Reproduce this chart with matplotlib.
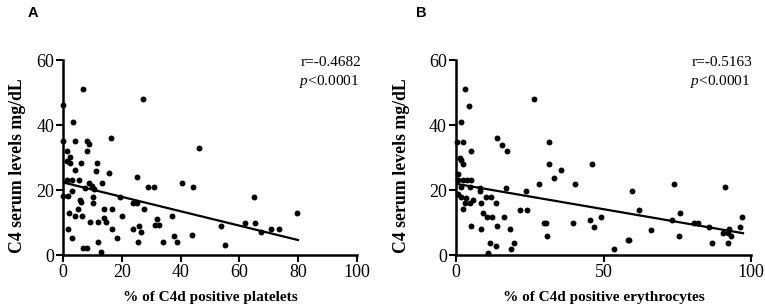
import matplotlib
matplotlib.use("Agg")
import matplotlib.pyplot as plt
import numpy as np

plt.rcParams["mathtext.fontset"] = "custom"
plt.rcParams["mathtext.it"] = "Liberation Serif:italic"
plt.rcParams["mathtext.rm"] = "Liberation Serif"

# ---- Panel A data: % C4d positive platelets vs C4 serum level ----
platelets_x = [6.6, 27.0, 0.0, 3.4, 0.0, 4.0, 8.0, 8.8, 16.1, 46.2, 1.1, 8.0, 2.3, 1.1, 2.3,
               6.2, 11.4, 4.0, 11.0, 15.6, 25.2, 1.1, 3.1, 5.3, 8.8, 9.7, 10.5, 13.1, 7.4, 3.1,
               28.9, 30.9, 40.3, 44.2, 0.0, 1.7, 10.0, 19.3, 6.0, 5.7, 10.0, 23.8, 25.2, 27.6, 2.0,
               4.0, 6.4, 4.9, 13.9, 16.5, 19.9, 36.9, 13.9, 14.5, 9.1, 11.7, 31.8, 31.2, 32.6,
               26.4, 25.9, 23.8, 16.7, 1.5, 3.1, 18.4, 34.0, 37.7, 38.9, 25.5, 11.7, 6.8, 8.0,
               12.8, 64.9, 79.6, 53.9, 61.8, 65.5, 67.5, 70.9, 73.5, 44.0, 55.0]
platelets_c4 = [51.1, 48.1, 46.2, 41.1, 35.2, 35.2, 35.2, 34.2, 36.2, 33.1, 32.1, 32.1, 30.2, 29.1, 28.3,
                28.3, 28.3, 26.2, 25.9, 25.2, 24.0, 23.2, 23.2, 23.2, 22.1, 21.4, 20.4, 22.1, 20.8, 19.8,
                21.1, 21.1, 22.1, 21.1, 18.3, 18.3, 18.0, 18.0, 16.3, 17.0, 16.2, 16.2, 16.2, 14.2, 13.1,
                12.1, 12.1, 14.1, 14.1, 14.1, 12.1, 12.1, 11.4, 10.2, 10.2, 10.2, 11.1, 9.3, 9.3,
                7.1, 9.0, 8.0, 8.0, 8.1, 5.2, 5.2, 4.0, 6.0, 4.0, 4.0, 4.0, 2.2, 2.2,
                0.9, 18.0, 13.1, 9.1, 10.0, 10.0, 7.1, 8.1, 8.1, 6.2, 3.1]
fitA_x = [0, 80]
fitA_y = [22.4, 4.7]

# ---- Panel B data: % C4d positive erythrocytes vs C4 serum level ----
erythro_x = [3.2, 4.4, 26.3, 1.8, 0.3, 2.4, 13.9, 15.6, 17.4, 31.6, 5.1, 1.2, 1.8, 2.4, 31.4,
             35.7, 0.7, 0.7, 2.4, 3.8, 5.2, 1.8, 4.6, 8.0, 8.0, 17.1, 23.6, 28.0, 33.2, 40.2,
             0.7, 1.8, 3.5, 5.8, 2.4, 3.2, 4.6, 8.4, 10.1, 12.0, 13.5, 9.2, 10.6, 12.3, 16.3,
             21.8, 24.1, 5.2, 8.4, 14.0, 18.4, 29.8, 30.4, 31.0, 39.7, 11.6, 13.5, 19.6, 18.7, 10.8,
             46.0, 59.5, 73.9, 91.2, 62.0, 75.9, 97.1, 45.4, 46.8, 49.2, 73.1, 80.8, 82.1, 85.8,
             90.6, 92.1, 92.5, 93.2, 96.3, 66.1, 75.6, 58.2, 58.7, 86.7, 92.3, 53.7]
erythro_c4 = [51.1, 46.0, 48.1, 41.0, 35.0, 35.0, 36.0, 33.9, 32.1, 35.0, 32.1, 30.0, 29.3, 28.1, 28.0,
              26.2, 24.9, 23.2, 23.2, 23.2, 23.2, 21.1, 21.1, 20.6, 19.8, 20.8, 19.9, 21.9, 23.9, 21.9,
              18.8, 18.0, 17.7, 17.0, 14.2, 16.0, 16.0, 16.0, 18.0, 18.0, 16.0, 12.9, 11.9, 11.9, 11.9,
              13.9, 13.9, 9.0, 8.0, 9.0, 8.0, 9.8, 9.8, 5.9, 9.8, 3.9, 2.9, 3.9, 1.9, 0.8,
              28.0, 19.9, 21.9, 20.9, 13.9, 12.9, 11.9, 10.9, 8.8, 11.9, 10.9, 9.8, 9.8, 8.8,
              7.0, 7.0, 8.0, 5.9, 8.8, 7.8, 5.9, 4.7, 4.7, 3.9, 3.9, 1.8]
fitB_x = [0, 97.3]
fitB_y = [22.0, 6.8]

yticks = [0, 20, 40, 60]
xticksA = [0, 20, 40, 60, 80, 100]
xticksB = [0, 50, 100]

W, H = 765, 308
fig = plt.figure(figsize=(W / 100, H / 100), dpi=100)

serif = ["Liberation Serif", "DejaVu Serif"]
sans = ["Liberation Sans", "DejaVu Sans"]


def px_axes(left, right, top, bottom):
    return fig.add_axes([left / W, 1 - bottom / H, (right - left) / W, (bottom - top) / H])


def style(ax, xticks, xlabel, ylab_x_px, left_px, width_px):
    ax.set_xlim(0, 100)
    ax.set_ylim(0, 60)
    ax.set_xticks(xticks)
    ax.set_yticks(yticks)
    for s in ["top", "right"]:
        ax.spines[s].set_visible(False)
    for s in ["left", "bottom"]:
        ax.spines[s].set_linewidth(1.8)
    ax.tick_params(direction="out", length=5, width=1.5, labelsize=13, pad=1.5)
    for lab in ax.get_xticklabels() + ax.get_yticklabels():
        lab.set_family(serif)
    ax.set_xlabel(xlabel, family=serif, fontweight="bold", fontsize=11, labelpad=7)
    ax.set_ylabel("C4 serum levels mg/dL", family=serif, fontweight="bold", fontsize=12.8)
    ax.yaxis.label.set_va("center")
    ax.yaxis.set_label_coords((ylab_x_px - left_px) / width_px, 0.46)
    ax.patch.set_alpha(0)


axA = px_axes(63.3, 356.7, 60.3, 255.3)
axA.scatter(platelets_x, platelets_c4, s=18, color="black", clip_on=False, zorder=3, linewidths=0)
axA.plot(fitA_x, fitA_y, color="black", lw=1.6)
style(axA, xticksA, "% of C4d positive platelets", 17.5, 63.3, 293.4)

axB = px_axes(456, 751, 60.3, 255.3)
axB.scatter(erythro_x, erythro_c4, s=18, color="black", clip_on=False, zorder=3, linewidths=0)
axB.plot(fitB_x, fitB_y, color="black", lw=1.6)
style(axB, xticksB, "% of C4d positive erythrocytes", 401, 456, 295)

# annotations
fig.text(301 / W, 1 - 62 / H, "r=-0.4682", family=serif, fontsize=11, va="center", ha="left")
fig.text(299 / W, 1 - 82 / H, r"$\mathit{p}$<0.0001", family=serif, fontsize=11, va="center", ha="left")
fig.text(692 / W, 1 - 62 / H, "r=-0.5163", family=serif, fontsize=11, va="center", ha="left")
fig.text(690 / W, 1 - 82 / H, r"$\mathit{p}$<0.0001", family=serif, fontsize=11, va="center", ha="left")

fig.text(28 / W, 1 - 13 / H, "A", family=sans, fontweight="bold", fontsize=10.5, va="center", ha="left")
fig.text(416 / W, 1 - 13 / H, "B", family=sans, fontweight="bold", fontsize=10.5, va="center", ha="left")

fig.savefig("out.png", dpi=100)
